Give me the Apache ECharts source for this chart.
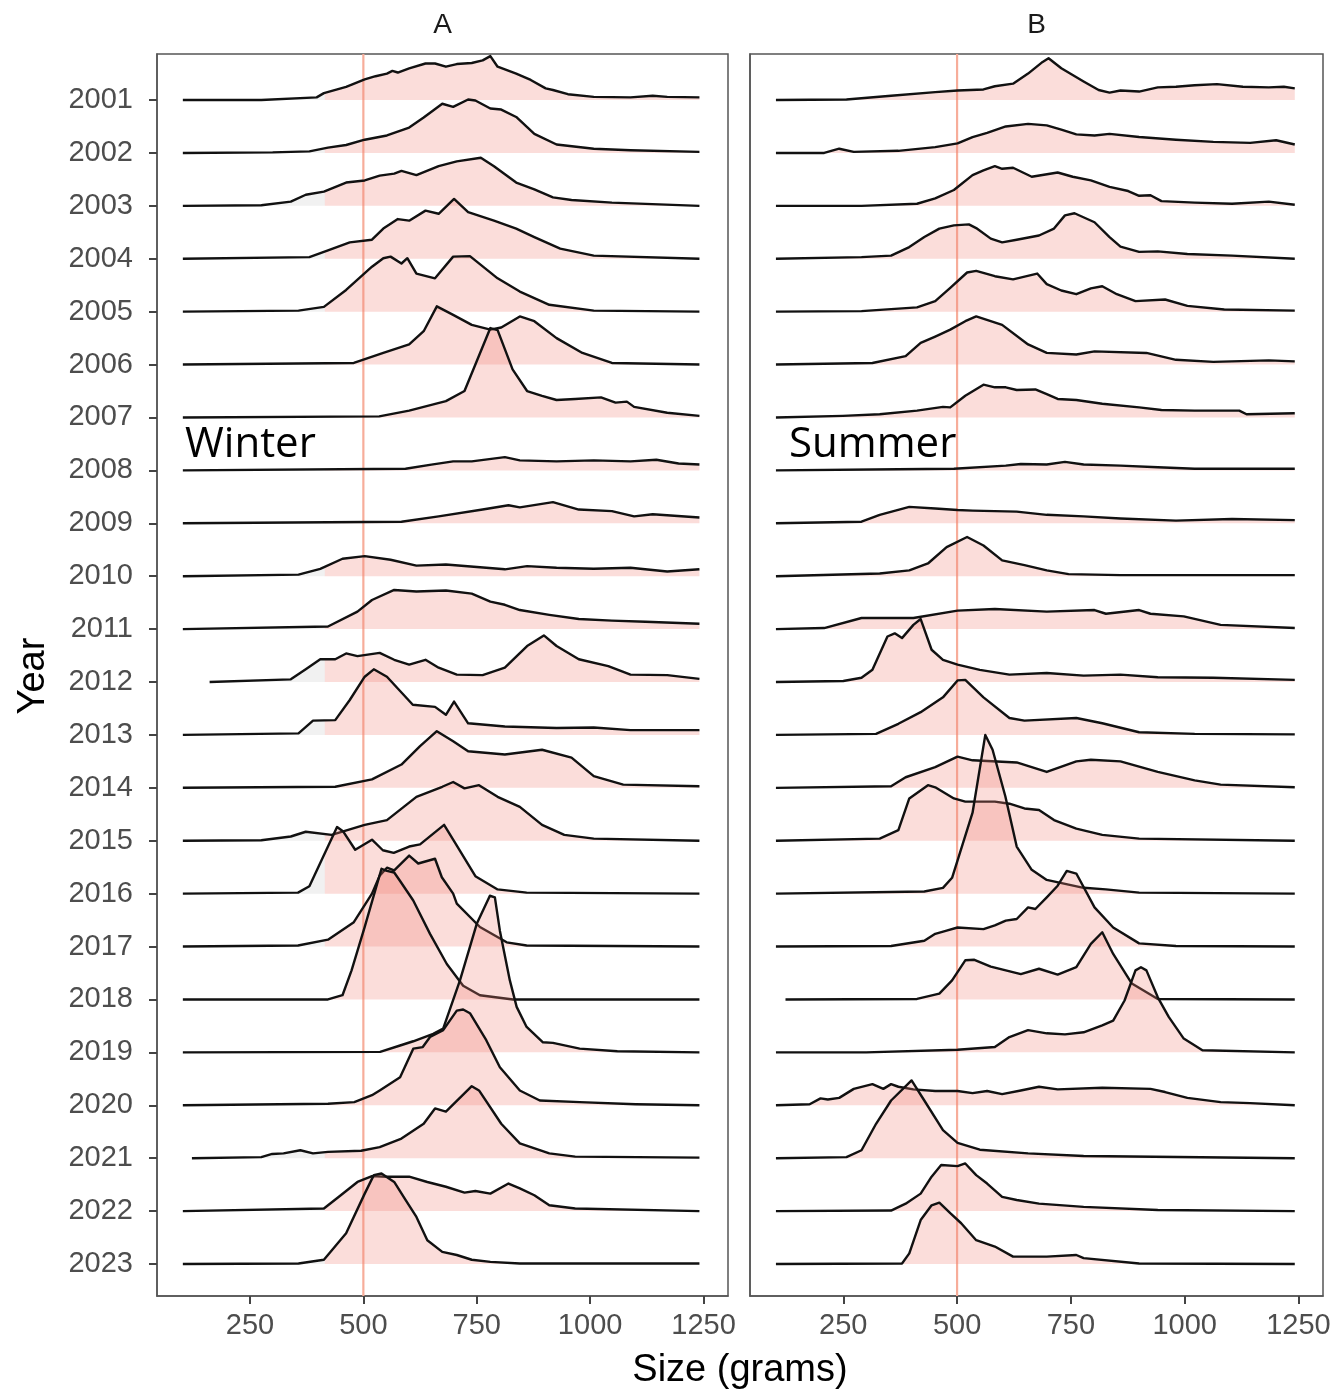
<!DOCTYPE html>
<html><head><meta charset="utf-8">
<script src="https://cdn.jsdelivr.net/npm/echarts@6/dist/echarts.min.js"></script>
<style>html,body{margin:0;padding:0;background:#fff}#c{width:1339px;height:1394px}</style>
</head><body><div id="c"></div>
<script>
// ---------- data (size in grams, scaled ridge height in row units) ----------
const years = [2001,2002,2003,2004,2005,2006,2007,2008,2009,2010,2011,2012,2013,2014,2015,2016,2017,2018,2019,2020,2021,2022,2023];
const xTicks = [250,500,750,1000,1250];
const refSize = 500;
const winterCut = 415;

const w2001 = [[102,0],[275,0],[397,0.05],[413,0.13],[462,0.25],[503,0.39],[527,0.45],[552,0.50],[564,0.55],[576,0.52],[601,0.60],[637,0.69],[658,0.69],[682,0.63],[706,0.68],[739,0.70],[763,0.75],[780,0.83],[796,0.63],[837,0.50],[869,0.38],[902,0.22],[918,0.19],[951,0.11],[1008,0.06],[1089,0.05],[1138,0.08],[1170,0.06],[1241,0.05]];
const w2002 = [[102,0],[300,0.01],[381,0.03],[422,0.10],[462,0.15],[503,0.25],[552,0.33],[601,0.48],[633,0.67],[674,0.93],[698,0.87],[731,1.01],[747,0.99],[780,0.84],[804,0.82],[837,0.68],[877,0.36],[926,0.16],[1008,0.08],[1089,0.05],[1241,0.02]];
const w2003 = [[102,0],[275,0.01],[340,0.08],[373,0.21],[413,0.27],[462,0.44],[503,0.48],[536,0.57],[568,0.61],[584,0.66],[617,0.58],[666,0.75],[706,0.84],[759,0.91],[788,0.75],[837,0.44],[877,0.31],[918,0.16],[959,0.11],[1048,0.06],[1241,0]];
const w2004 = [[102,0],[381,0.03],[422,0.16],[470,0.31],[519,0.36],[544,0.57],[576,0.75],[601,0.72],[637,0.91],[666,0.85],[700,1.13],[731,0.88],[788,0.72],[837,0.57],[877,0.41],[934,0.19],[1008,0.06],[1241,0]];
const w2005 = [[102,0],[357,0.02],[413,0.09],[462,0.41],[519,0.85],[544,1.01],[560,1.04],[584,0.91],[597,1.01],[617,0.72],[658,0.63],[698,1.04],[735,1.05],[796,0.63],[845,0.38],[910,0.13],[1008,0.02],[1241,0]];
const w2006 = [[102,0],[479,0.03],[544,0.22],[601,0.38],[633,0.63],[662,1.10],[698,0.94],[739,0.75],[780,0.66],[804,0.70],[845,0.91],[877,0.82],[926,0.50],[983,0.22],[1048,0.03],[1241,0]];
const w2007 = [[102,0],[535,0.02],[601,0.13],[682,0.31],[723,0.50],[780,1.69],[796,1.65],[829,0.91],[861,0.50],[894,0.41],[926,0.33],[967,0.35],[1024,0.38],[1056,0.28],[1081,0.30],[1097,0.20],[1170,0.09],[1241,0.03]];
const w2008 = [[102,0],[593,0.03],[650,0.11],[698,0.17],[739,0.17],[812,0.25],[845,0.19],[926,0.17],[1008,0.19],[1089,0.17],[1146,0.20],[1195,0.13],[1241,0.11]];
const w2009 = [[102,0],[584,0.03],[666,0.13],[763,0.26],[820,0.34],[845,0.30],[918,0.40],[975,0.26],[1048,0.23],[1097,0.13],[1138,0.17],[1241,0.11]];
const w2010 = [[102,0],[357,0.03],[405,0.14],[454,0.33],[503,0.38],[560,0.31],[617,0.20],[682,0.22],[812,0.13],[861,0.19],[926,0.16],[1008,0.14],[1089,0.16],[1170,0.09],[1241,0.13]];
const w2011 = [[102,0],[422,0.05],[487,0.33],[519,0.55],[568,0.74],[617,0.71],[682,0.73],[739,0.67],[780,0.52],[812,0.46],[845,0.36],[910,0.27],[975,0.19],[1048,0.16],[1122,0.14],[1241,0.10]];
const w2012 = [[161,0],[340,0.05],[373,0.24],[405,0.43],[438,0.43],[462,0.54],[487,0.49],[536,0.55],[568,0.42],[601,0.33],[637,0.42],[666,0.27],[706,0.14],[763,0.13],[812,0.27],[861,0.68],[898,0.88],[926,0.68],[975,0.43],[1040,0.30],[1089,0.14],[1170,0.13],[1241,0.06]];
const w2013 = [[102,0],[357,0.03],[389,0.27],[438,0.28],[470,0.66],[503,1.10],[523,1.24],[552,1.10],[609,0.57],[658,0.53],[682,0.38],[700,0.63],[731,0.22],[812,0.16],[926,0.13],[1008,0.14],[1089,0.09],[1241,0.09]];
const w2014 = [[102,0],[438,0.02],[519,0.16],[584,0.44],[625,0.79],[662,1.07],[698,0.88],[731,0.69],[812,0.63],[894,0.72],[959,0.57],[1008,0.22],[1073,0.06],[1241,0.03]];
const w2015 = [[102,0],[275,0.01],[340,0.08],[373,0.17],[430,0.11],[503,0.30],[552,0.39],[617,0.83],[674,1.02],[698,1.11],[723,0.99],[755,1.05],[796,0.83],[845,0.64],[894,0.30],[943,0.11],[1008,0.04],[1241,0]];
const w2016 = [[102,0],[356,0.02],[381,0.14],[442,1.26],[455,1.18],[482,0.83],[519,1.02],[543,0.82],[567,0.77],[601,0.89],[625,0.93],[678,1.30],[698,1.02],[747,0.33],[796,0.08],[860,0.02],[1241,0]];
const w2017 = [[102,0],[356,0.02],[422,0.13],[479,0.46],[519,1.00],[536,1.34],[552,1.49],[568,1.44],[601,1.72],[621,1.57],[658,1.66],[673,1.31],[698,1.00],[706,0.81],[757,0.37],[816,0.08],[860,0.02],[1241,0]];
const w2018 = [[102,0],[422,0],[454,0.08],[474,0.55],[503,1.37],[540,2.47],[552,2.43],[568,2.40],[581,2.24],[610,1.87],[647,1.24],[684,0.67],[720,0.26],[757,0.08],[830,0],[1241,0]];
const w2019 = [[102,0],[537,0.01],[581,0.13],[610,0.21],[654,0.35],[676,0.45],[713,1.36],[750,2.43],[779,2.96],[790,2.93],[801,2.30],[823,1.36],[838,0.86],[860,0.48],[896,0.19],[918,0.18],[977,0.07],[1060,0.02],[1241,0]];
const w2020 = [[102,0],[422,0.03],[480,0.06],[519,0.19],[536,0.28],[581,0.53],[610,1.07],[631,1.10],[647,1.29],[676,1.42],[706,1.79],[720,1.81],[735,1.74],[771,1.23],[801,0.72],[845,0.28],[889,0.09],[977,0.06],[1100,0.02],[1241,0]];
const w2021 = [[122,0],[275,0.02],[299,0.08],[324,0.09],[361,0.15],[389,0.09],[422,0.12],[495,0.14],[536,0.21],[584,0.37],[633,0.65],[658,0.94],[682,0.88],[739,1.36],[755,1.28],[804,0.65],[845,0.28],[910,0.09],[967,0.03],[1241,0.01]];
const w2022 = [[102,0],[413,0.05],[446,0.27],[487,0.55],[519,0.66],[552,0.65],[601,0.65],[641,0.55],[682,0.46],[723,0.35],[747,0.38],[780,0.33],[820,0.52],[845,0.43],[877,0.30],[910,0.11],[967,0.05],[1241,0]];
const w2023 = [[102,0],[357,0.01],[413,0.08],[462,0.58],[503,1.33],[523,1.68],[540,1.71],[568,1.55],[593,1.21],[617,0.89],[641,0.45],[674,0.23],[706,0.17],[739,0.08],[780,0.04],[845,0.01],[1241,0.01]];

const s2001 = [[102,0],[257,0.01],[355,0.08],[452,0.15],[501,0.18],[558,0.20],[583,0.26],[623,0.31],[656,0.50],[688,0.72],[701,0.79],[729,0.60],[778,0.35],[811,0.19],[835,0.14],[859,0.18],[900,0.16],[941,0.24],[981,0.25],[1022,0.28],[1071,0.30],[1128,0.25],[1185,0.24],[1218,0.25],[1242,0.22]];
const s2002 = [[102,0],[208,0],[241,0.08],[273,0.02],[371,0.04],[452,0.11],[501,0.18],[534,0.30],[566,0.38],[607,0.50],[656,0.55],[697,0.52],[729,0.44],[762,0.35],[802,0.33],[835,0.36],[900,0.30],[981,0.25],[1063,0.21],[1144,0.19],[1201,0.24],[1242,0.16]];
const s2003 = [[102,0],[290,0],[412,0.04],[452,0.14],[493,0.30],[534,0.58],[558,0.67],[583,0.75],[599,0.70],[623,0.72],[664,0.55],[721,0.63],[754,0.55],[794,0.48],[835,0.36],[876,0.28],[900,0.19],[925,0.20],[949,0.09],[1022,0.06],[1104,0.04],[1185,0.08],[1242,0.02]];
const s2004 = [[102,0],[290,0.03],[355,0.06],[395,0.22],[428,0.41],[461,0.57],[493,0.63],[526,0.65],[542,0.58],[574,0.38],[599,0.31],[631,0.36],[680,0.44],[713,0.57],[737,0.82],[758,0.86],[802,0.69],[835,0.41],[859,0.23],[900,0.13],[941,0.14],[1006,0.09],[1104,0.06],[1242,0]];
const s2005 = [[102,0],[290,0.01],[412,0.08],[452,0.20],[485,0.45],[522,0.74],[542,0.77],[583,0.67],[623,0.61],[676,0.72],[697,0.52],[729,0.40],[762,0.33],[794,0.44],[819,0.48],[851,0.33],[892,0.20],[957,0.23],[1006,0.11],[1087,0.04],[1242,0.02]];
const s2006 = [[102,0],[314,0.03],[387,0.16],[420,0.41],[452,0.53],[485,0.66],[518,0.82],[542,0.91],[599,0.75],[656,0.38],[697,0.22],[762,0.19],[802,0.25],[916,0.22],[981,0.09],[1063,0.05],[1185,0.08],[1242,0.06]];
const s2007 = [[102,0],[249,0.03],[330,0.06],[412,0.13],[469,0.20],[485,0.19],[518,0.41],[558,0.62],[583,0.57],[607,0.57],[631,0.52],[672,0.53],[697,0.44],[721,0.35],[762,0.33],[819,0.26],[900,0.19],[949,0.14],[1022,0.13],[1120,0.13],[1136,0.06],[1242,0.08]];
const s2008 = [[102,0],[371,0.02],[493,0.03],[607,0.09],[640,0.12],[697,0.11],[737,0.16],[778,0.11],[859,0.09],[941,0.06],[1022,0.03],[1242,0.03]];
const s2009 = [[102,0],[290,0.03],[330,0.16],[395,0.31],[452,0.28],[501,0.25],[534,0.24],[631,0.22],[697,0.16],[778,0.13],[859,0.09],[981,0.05],[1104,0.08],[1242,0.06]];
const s2010 = [[102,0],[330,0.05],[395,0.11],[436,0.24],[477,0.55],[522,0.74],[558,0.58],[599,0.30],[648,0.21],[697,0.11],[745,0.04],[859,0.02],[1242,0.02]];
const s2011 = [[102,0],[208,0.02],[290,0.21],[404,0.21],[501,0.35],[583,0.38],[697,0.33],[802,0.36],[827,0.29],[900,0.36],[925,0.29],[998,0.24],[1079,0.08],[1242,0.02]];
const s2012 = [[102,0],[250,0.02],[290,0.08],[314,0.23],[347,0.86],[363,0.92],[379,0.83],[404,1.08],[420,1.19],[444,0.61],[469,0.42],[501,0.33],[550,0.23],[615,0.14],[697,0.17],[778,0.12],[859,0.14],[941,0.09],[1063,0.08],[1242,0.04]];
const s2013 = [[102,0],[322,0.02],[371,0.21],[420,0.43],[469,0.71],[501,1.03],[518,1.04],[558,0.71],[615,0.32],[648,0.27],[762,0.32],[819,0.22],[900,0.05],[1022,0.02],[1242,0.01]];
const s2014 = [[102,0],[355,0.03],[387,0.20],[452,0.39],[501,0.59],[534,0.52],[631,0.48],[697,0.30],[762,0.50],[794,0.53],[859,0.50],[941,0.30],[1022,0.14],[1079,0.06],[1242,0.01]];
const s2015 = [[102,0],[330,0.04],[371,0.20],[395,0.80],[436,1.05],[452,1.01],[493,0.80],[518,0.74],[583,0.74],[615,0.70],[648,0.61],[680,0.58],[713,0.39],[762,0.23],[819,0.11],[900,0.04],[1242,0]];
const s2016 = [[102,0],[428,0.04],[469,0.11],[489,0.30],[534,1.53],[562,3.00],[578,2.72],[606,1.84],[631,0.89],[664,0.45],[697,0.26],[745,0.17],[778,0.11],[827,0.08],[900,0.02],[1242,0]];
const s2017 = [[102,0],[355,0.01],[428,0.11],[452,0.24],[477,0.30],[501,0.36],[558,0.33],[583,0.40],[607,0.49],[631,0.52],[656,0.74],[672,0.71],[697,0.93],[721,1.15],[741,1.43],[762,1.38],[802,0.74],[843,0.36],[900,0.06],[981,0.01],[1242,0]];
const s2018 = [[123,0],[412,0.01],[461,0.11],[489,0.36],[518,0.74],[538,0.75],[574,0.62],[640,0.48],[680,0.58],[721,0.47],[762,0.61],[794,1.05],[819,1.27],[843,0.86],[884,0.30],[941,0.01],[1242,0]];
const s2019 = [[102,0],[300,0],[501,0.05],[583,0.10],[615,0.29],[656,0.42],[697,0.36],[737,0.34],[778,0.38],[819,0.51],[843,0.60],[868,0.98],[892,1.55],[904,1.61],[916,1.55],[941,1.04],[965,0.67],[998,0.26],[1039,0.04],[1242,0]];
const s2020 = [[102,0],[176,0.02],[200,0.13],[216,0.11],[241,0.14],[273,0.31],[314,0.40],[338,0.31],[355,0.40],[371,0.35],[404,0.30],[452,0.27],[501,0.27],[534,0.23],[566,0.27],[599,0.21],[640,0.28],[680,0.35],[721,0.30],[819,0.33],[925,0.31],[957,0.25],[1006,0.14],[1079,0.06],[1144,0.04],[1242,0]];
const s2021 = [[102,0],[257,0.02],[290,0.15],[322,0.65],[355,1.09],[400,1.47],[428,1.09],[469,0.53],[501,0.29],[550,0.16],[656,0.09],[778,0.04],[1242,0]];
const s2022 = [[102,0],[355,0.01],[387,0.14],[420,0.33],[444,0.65],[465,0.87],[501,0.85],[518,0.90],[542,0.68],[566,0.52],[599,0.27],[631,0.21],[680,0.14],[778,0.08],[941,0.02],[1242,0]];
const s2023 = [[102,0],[379,0.01],[395,0.20],[420,0.83],[444,1.11],[461,1.16],[485,0.96],[509,0.77],[542,0.45],[583,0.33],[623,0.14],[697,0.14],[762,0.17],[778,0.11],[900,0.01],[1242,0]];

const winterRidges = [w2001,w2002,w2003,w2004,w2005,w2006,w2007,w2008,w2009,w2010,w2011,w2012,w2013,w2014,w2015,w2016,w2017,w2018,w2019,w2020,w2021,w2022,w2023];
const summerRidges = [s2001,s2002,s2003,s2004,s2005,s2006,s2007,s2008,s2009,s2010,s2011,s2012,s2013,s2014,s2015,s2016,s2017,s2018,s2019,s2020,s2021,s2022,s2023];

// ---------- chart ----------
const X_MIN = 45, X_MAX = 1304, Y_MIN = -0.605, Y_MAX = 22.87;
const FONT = '"Liberation Sans", Arial, Helvetica, sans-serif';
const PINK = 'rgba(240,128,118,0.27)';
const GREY = 'rgba(185,185,185,0.2)';

function clipRidge(r, lo, hi) {
  const out = [];
  for (let k = 0; k < r.length; k++) {
    const x = r[k][0], h = r[k][1];
    if (k > 0) {
      const x0 = r[k-1][0], h0 = r[k-1][1];
      [lo, hi].forEach(function (b) {
        if (x0 < b && x > b) out.push([b, h0 + (h - h0) * (b - x0) / (x - x0)]);
      });
    }
    if (x >= lo && x <= hi) out.push([x, h]);
  }
  return out;
}

function makeRender(ridges, cut) {
  return function (params, api) {
    const i = params.dataIndex;
    const ridge = ridges[i];
    const base = years.length - 1 - i;
    const children = [];
    function poly(part, color) {
      if (part.length < 2) return;
      const pts = [api.coord([part[0][0], base])];
      part.forEach(function (p) { pts.push(api.coord([p[0], base + p[1]])); });
      pts.push(api.coord([part[part.length-1][0], base]));
      children.push({ type: 'polygon', shape: { points: pts }, style: { fill: color, stroke: null } });
    }
    poly(clipRidge(ridge, -Infinity, cut), GREY);
    poly(clipRidge(ridge, cut, Infinity), PINK);
    children.push({
      type: 'polyline',
      shape: { points: ridge.map(function (p) { return api.coord([p[0], base + p[1]]); }) },
      style: { stroke: '#111', lineWidth: 2.4, fill: null, lineJoin: 'round' }
    });
    return { type: 'group', children: children };
  };
}

function xAxisCfg(gi) {
  return {
    type: 'value', gridIndex: gi, min: X_MIN, max: X_MAX,
    axisLine: { show: true, onZero: false, lineStyle: { color: '#555', width: 1.5 } },
    axisTick: { show: true, customValues: xTicks, length: 8, lineStyle: { color: '#444', width: 2 } },
    axisLabel: { customValues: xTicks, fontSize: 29, color: '#4d4d4d', fontFamily: FONT, margin: 15,
      formatter: function (v) { return String(v); } },
    splitLine: { show: false }
  };
}
const rowValues = years.map(function (y, i) { return i; });
function yAxisCfg(gi, labels) {
  return {
    type: 'value', gridIndex: gi, min: Y_MIN, max: Y_MAX,
    axisLine: { show: true, onZero: false, lineStyle: { color: '#555', width: 1.5 } },
    axisTick: { show: labels, customValues: rowValues, length: 8, lineStyle: { color: '#444', width: 2 } },
    axisLabel: {
      show: labels, customValues: rowValues, fontSize: 29, color: '#4d4d4d', fontFamily: FONT, margin: 24,
      formatter: function (v) { return String(years[years.length - 1 - Math.round(v)]); }
    },
    splitLine: { show: false }
  };
}

const option = {
  animation: false,
  backgroundColor: '#ffffff',
  grid: [
    { left: 157, top: 54, width: 571, height: 1242, show: true, borderColor: '#555', borderWidth: 1.5, backgroundColor: 'transparent' },
    { left: 750, top: 54, width: 573, height: 1242, show: true, borderColor: '#555', borderWidth: 1.5, backgroundColor: 'transparent' }
  ],
  xAxis: [xAxisCfg(0), xAxisCfg(1)],
  yAxis: [yAxisCfg(0, true), yAxisCfg(1, false)],
  series: [
    { type: 'line', xAxisIndex: 0, yAxisIndex: 0, data: [[refSize, Y_MIN], [refSize, Y_MAX]], showSymbol: false, silent: true, z: 1, lineStyle: { color: '#f7ad9a', width: 2.2 } },
    { type: 'line', xAxisIndex: 1, yAxisIndex: 1, data: [[refSize, Y_MIN], [refSize, Y_MAX]], showSymbol: false, silent: true, z: 1, lineStyle: { color: '#f7ad9a', width: 2.2 } },
    { type: 'custom', xAxisIndex: 0, yAxisIndex: 0, z: 3, silent: true,
      data: winterRidges.map(function (r, i) { return [r[0][0], years.length - 1 - i]; }),
      renderItem: makeRender(winterRidges, winterCut) },
    { type: 'custom', xAxisIndex: 1, yAxisIndex: 1, z: 3, silent: true,
      data: summerRidges.map(function (r, i) { return [r[0][0], years.length - 1 - i]; }),
      renderItem: makeRender(summerRidges, -Infinity) }
  ],
  graphic: [
    { type: 'text', x: 442.5, y: 25, silent: true, style: { text: 'A', font: '28px ' + FONT, fill: '#1a1a1a', textAlign: 'center', textVerticalAlign: 'middle' } },
    { type: 'text', x: 1036.5, y: 25, silent: true, style: { text: 'B', font: '28px ' + FONT, fill: '#1a1a1a', textAlign: 'center', textVerticalAlign: 'middle' } },
    { type: 'text', x: 185, y: 445, z: 10, silent: true, style: { text: 'Winter', font: '42px "Open Sans", "Noto Sans", sans-serif', fill: '#000', textAlign: 'left', textVerticalAlign: 'middle' } },
    { type: 'text', x: 789, y: 445, z: 10, silent: true, style: { text: 'Summer', font: '42px "Open Sans", "Noto Sans", sans-serif', fill: '#000', textAlign: 'left', textVerticalAlign: 'middle' } },
    { type: 'text', x: 740, y: 1371, silent: true, style: { text: 'Size (grams)', font: '38px ' + FONT, fill: '#000', textAlign: 'center', textVerticalAlign: 'middle' } },
    { type: 'text', x: 34, y: 676, rotation: Math.PI / 2, silent: true, style: { text: 'Year', font: '38px ' + FONT, fill: '#000', textAlign: 'center', textVerticalAlign: 'middle' } }
  ]
};

const chart = echarts.init(document.getElementById('c'), null, { renderer: 'canvas' });
chart.setOption(option);
</script>
</body></html>
